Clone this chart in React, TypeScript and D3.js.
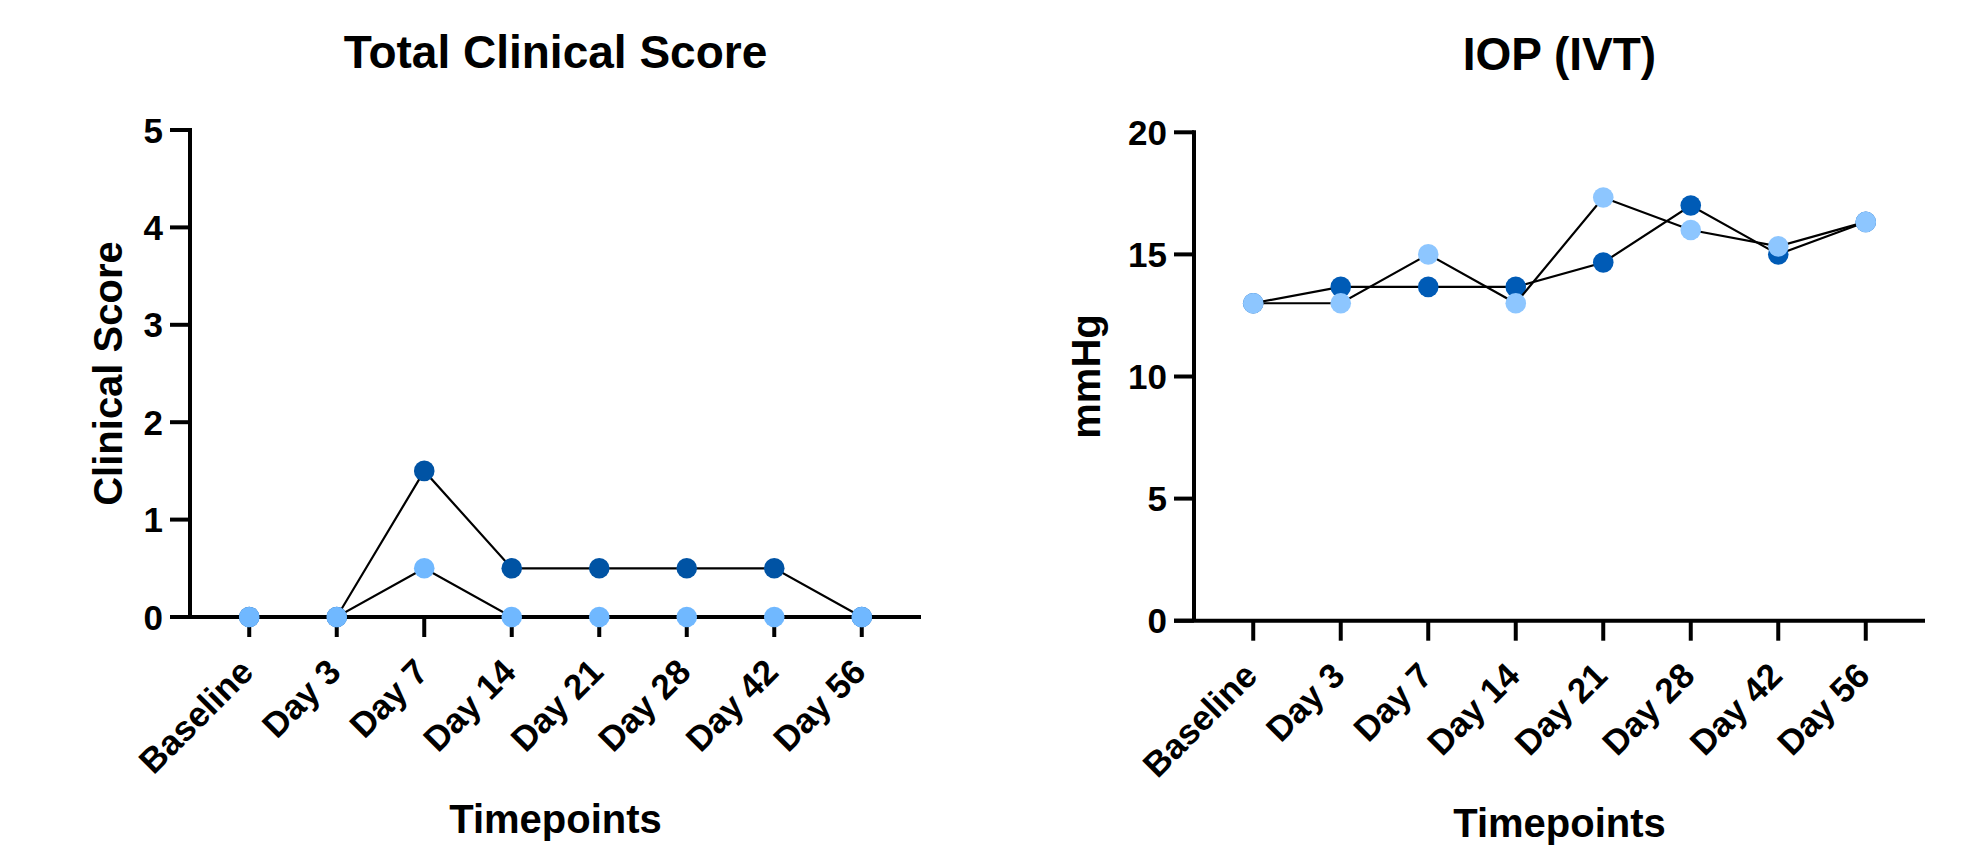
import React from "react";
import * as d3 from "d3";

const timepoints = ["Baseline", "Day 3", "Day 7", "Day 14", "Day 21", "Day 28", "Day 42", "Day 56"];

const clinicalDark = [0, 0, 1.5, 0.5, 0.5, 0.5, 0.5, 0];
const clinicalLight = [0, 0, 0.5, 0, 0, 0, 0, 0];
const clinicalTicks = [0, 1, 2, 3, 4, 5];

const iopDark = [13, 13.67, 13.67, 13.67, 14.67, 17, 15, 16.33];
const iopLight = [13, 13, 15, 13, 17.33, 16, 15.33, 16.33];
const iopTicks = [0, 5, 10, 15, 20];

const FONT = "'Liberation Sans', Arial, Helvetica, sans-serif";

type PanelProps = {
  title: string;
  yLabel: string;
  xLabel: string;
  series: { values: number[]; color: string }[];
  ticks: number[];
  yMax: number;
  x0: number;
  x1: number;
  yTop: number;
  yBottom: number;
  yLabelX: number;
};

function Panel(p: PanelProps) {
  const x = d3.scalePoint<string>().domain(timepoints).range([p.x0, p.x1]).padding(0.677);
  const y = d3.scaleLinear().domain([0, p.yMax]).range([p.yBottom, p.yTop]);
  const line = d3
    .line<number>()
    .x((_, i) => x(timepoints[i]) as number)
    .y((v) => y(v));
  const cx = (p.x0 + p.x1) / 2;
  const cy = (p.yTop + p.yBottom) / 2;
  const tickLen = 20;
  return (
    <g fontFamily={FONT} fontWeight="bold" fill="#000">
      <text x={cx} y={p.yTop - 62} textAnchor="middle" fontSize={46}>
        {p.title}
      </text>
      <text
        transform={`translate(${p.yLabelX},${cy}) rotate(-90)`}
        textAnchor="middle"
        fontSize={40}
      >
        {p.yLabel}
      </text>
      <text x={cx} y={p.yBottom + 216} textAnchor="middle" fontSize={40}>
        {p.xLabel}
      </text>
      {/* axes */}
      <line x1={p.x0} x2={p.x0} y1={p.yTop - 2} y2={p.yBottom} stroke="#000" strokeWidth={4} />
      <line x1={p.x0 - tickLen} x2={p.x1} y1={p.yBottom} y2={p.yBottom} stroke="#000" strokeWidth={4} />
      {p.ticks.map((t) => (
        <g key={t}>
          <line x1={p.x0 - tickLen} x2={p.x0} y1={y(t)} y2={y(t)} stroke="#000" strokeWidth={4} />
          <text x={p.x0 - tickLen - 7} y={y(t)} dy="0.36em" textAnchor="end" fontSize={35}>
            {t}
          </text>
        </g>
      ))}
      {timepoints.map((tp) => (
        <g key={tp}>
          <line
            x1={x(tp)}
            x2={x(tp)}
            y1={p.yBottom}
            y2={p.yBottom + tickLen}
            stroke="#000"
            strokeWidth={4}
          />
          <text
            transform={`translate(${(x(tp) as number) + 6},${p.yBottom + 57}) rotate(-45)`}
            textAnchor="end"
            fontSize={35}
          >
            {tp}
          </text>
        </g>
      ))}
      {p.series.map((s, si) => (
        <g key={si}>
          <path d={line(s.values) || ""} fill="none" stroke="#000" strokeWidth={2.2} />
          {s.values.map((v, i) => (
            <circle key={i} cx={x(timepoints[i])} cy={y(v)} r={10.3} fill={s.color} />
          ))}
        </g>
      ))}
    </g>
  );
}

export default function App() {
  return (
    <svg
      width={1982}
      height={848}
      style={{ position: "absolute", left: 0, top: 0, background: "#fff" }}
    >
      <rect width={1982} height={848} fill="#fff" />
      <Panel
        title="Total Clinical Score"
        yLabel="Clinical Score"
        xLabel="Timepoints"
        series={[
          { values: clinicalDark, color: "#0053A4" },
          { values: clinicalLight, color: "#70B8FF" },
        ]}
        ticks={clinicalTicks}
        yMax={5}
        x0={190}
        x1={921}
        yTop={130}
        yBottom={617}
        yLabelX={121.5}
      />
      <Panel
        title="IOP (IVT)"
        yLabel="mmHg"
        xLabel="Timepoints"
        series={[
          { values: iopDark, color: "#005BB6" },
          { values: iopLight, color: "#8DC6FF" },
        ]}
        ticks={iopTicks}
        yMax={20}
        x0={1194}
        x1={1925}
        yTop={132.3}
        yBottom={620.7}
        yLabelX={1099.5}
      />
    </svg>
  );
}
